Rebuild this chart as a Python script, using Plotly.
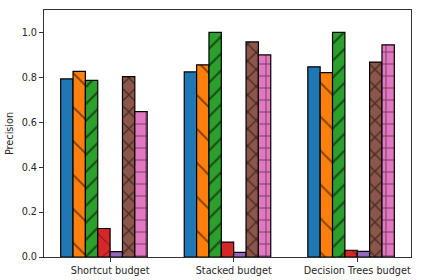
import plotly.graph_objects as go

categories = ["Shortcut budget", "Stacked budget", "Decision Trees budget"]
s1 = [0.793, 0.824, 0.847]
s2 = [0.827, 0.856, 0.821]
s3 = [0.787, 1.0, 1.0]
s4 = [0.127, 0.066, 0.030]
s5 = [0.024, 0.021, 0.025]
s6 = [0.803, 0.958, 0.868]
s7 = [0.648, 0.900, 0.945]
series = [s1, s2, s3, s4, s5, s6, s7]

colors = ["#1f77b4", "#ff7f0e", "#2ca02c", "#d62728", "#9467bd", "#8c564b", "#e377c2"]
patterns = [("", 8, 0.1), ("\\", 24, 0.08), ("/", 12, 0.18), ("x", 24, 0.08),
            ("", 8, 0.1), ("x", 12, 0.2), ("+", 12, 0.15)]

fig = go.Figure()
w = 0.1
for i, vals in enumerate(series):
    shape, size, sol = patterns[i]
    fig.add_trace(go.Bar(
        x=[0, 1, 2], y=vals, width=w, offset=-0.4 + i * w,
        marker=dict(color=colors[i], line=dict(color="black", width=1.2),
                    pattern=dict(shape=shape, size=size, solidity=sol, fgcolor="black")),
        showlegend=False, hoverinfo="skip",
    ))

fig.update_layout(
    barmode="overlay",
    width=421, height=280,
    margin=dict(l=44, r=10, t=10, b=23),
    paper_bgcolor="white", plot_bgcolor="white",
    font=dict(family="DejaVu Sans", size=9.7, color="#262626"),
)
fig.update_xaxes(
    range=[-0.535, 2.435], tickvals=[0, 1, 2], ticktext=categories,
    showline=True, linecolor="#333333", linewidth=1, mirror=True,
    ticks="outside", ticklen=4, tickcolor="#333333", showgrid=False, zeroline=False,
    automargin=False,
)
fig.update_yaxes(
    range=[0, 1.1], tickvals=[0, 0.2, 0.4, 0.6, 0.8, 1.0],
    ticktext=["0.0", "0.2", "0.4", "0.6", "0.8", "1.0"],
    showline=True, linecolor="#333333", linewidth=1, mirror=True,
    ticks="outside", ticklen=4, tickcolor="#333333", showgrid=False, zeroline=False,
    title=dict(text="Precision", standoff=6, font=dict(size=9.7)), automargin=False,
)
fig.write_html(
    "out.html",
    config={"displayModeBar": False},
    post_script="document.body.style.margin='0';document.body.style.overflow='hidden';",
)
